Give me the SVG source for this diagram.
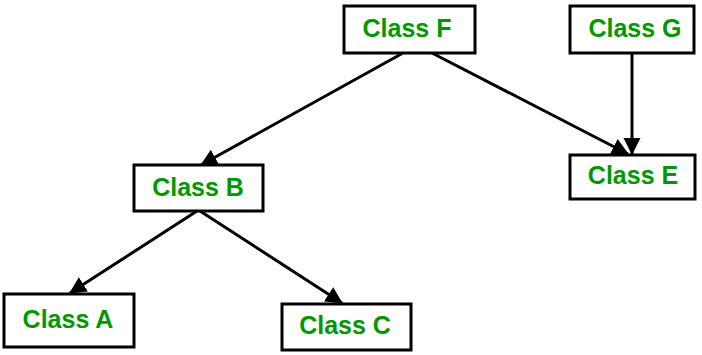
<svg xmlns="http://www.w3.org/2000/svg" width="702" height="355" viewBox="0 0 702 355">
<style>
.box{fill:#fff;stroke:#000;stroke-width:3}
.lbl{font-family:"Liberation Sans",Arial,sans-serif;font-weight:bold;font-size:25px;fill:#009900;text-anchor:middle}
.edge{stroke:#000;stroke-width:3;fill:none;marker-end:url(#arr)}
</style>
<defs>
<marker id="arr" markerUnits="userSpaceOnUse" markerWidth="18" markerHeight="18" refX="16" refY="8.5" orient="auto" viewBox="0 0 18 17">
<path d="M0,0 L17,8.5 L0,17 z" fill="#000"/>
</marker>
</defs>
<rect width="702" height="355" fill="#fff"/>
<g id="connectors">
<line class="edge" x1="403" y1="53" x2="201" y2="165"/>
<line class="edge" x1="432" y1="53" x2="628" y2="154"/>
<line class="edge" x1="632" y1="53" x2="632" y2="154"/>
<line class="edge" x1="197" y1="211" x2="70" y2="293"/>
<line class="edge" x1="200" y1="211" x2="342" y2="303"/>
</g>
<g id="classF"><rect class="box" x="344" y="6" width="131" height="47"/><text class="lbl" x="407" y="37">Class F</text></g>
<g id="classG"><rect class="box" x="570" y="6" width="124" height="47"/><text class="lbl" x="635" y="37">Class G</text></g>
<g id="classE"><rect class="box" x="570" y="155" width="125" height="44"/><text class="lbl" x="633" y="184">Class E</text></g>
<g id="classB"><rect class="box" x="134" y="165" width="129" height="46"/><text class="lbl" x="198" y="196">Class B</text></g>
<g id="classA"><rect class="box" x="4" y="294" width="130" height="53"/><text class="lbl" x="68" y="328">Class A</text></g>
<g id="classC"><rect class="box" x="282" y="304" width="129" height="46"/><text class="lbl" x="345" y="334">Class C</text></g>
</svg>
